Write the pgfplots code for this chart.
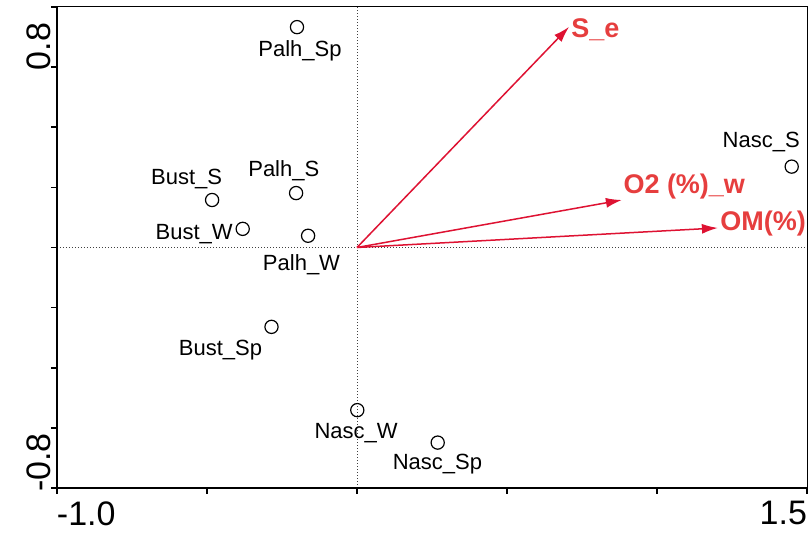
\documentclass[border=0pt]{standalone}
\usepackage{pgfplots}
\pgfplotsset{compat=1.18}
\usepackage{fontspec}
\setmainfont{Liberation Sans}
\usetikzlibrary{arrows.meta}
\definecolor{arrowred}{RGB}{222,18,50}
\definecolor{textred}{RGB}{230,62,62}
\begin{document}
\begin{tikzpicture}
\begin{axis}[
  name=ax,
  scale only axis,
  width=375pt, height=240.5pt,
  xmin=-1, xmax=1.5, ymin=-0.8, ymax=0.8,
  axis line style={line width=0.5pt},
  tick pos=left,
  tick align=outside,
  major tick length=3pt,
  tick style={line width=0.8pt, black},
  xtick={-1,-0.5,0,0.5,1,1.5},
  ytick={-0.8,-0.6,-0.4,-0.2,0,0.2,0.4,0.6,0.8},
  xticklabels={\makebox[0pt][l]{-1.0},{},{},{},{},\makebox[0pt][r]{1.5}},
  yticklabels={\makebox[0pt][l]{\hspace{3.5pt}-0.8},{},{},{},{},{},{},{},\makebox[0pt][r]{0.8\hspace{2.5pt}}},
  tick label style={font=\fontsize{17}{20}\selectfont},
  xticklabel style={anchor=north, inner sep=0pt, yshift=-3.5pt},
  yticklabel style={rotate=90, anchor=south, inner sep=0pt, xshift=-5.5pt},
]
\addplot[densely dotted, line width=0.5pt, black!75] coordinates {(-1,0) (1.5,0)};
\addplot[densely dotted, line width=0.5pt, black!75] coordinates {(0,-0.8) (0,0.8)};
\addplot[arrowred, line width=0.75pt, -{Latex[length=8pt,width=5pt]}] coordinates {(0,0) (0.707,0.734)};
\addplot[arrowred, line width=0.75pt, -{Latex[length=8pt,width=5pt]}] coordinates {(0,0) (0.883,0.158)};
\addplot[arrowred, line width=0.75pt, -{Latex[length=8pt,width=5pt]}] coordinates {(0,0) (1.203,0.065)};
\addplot[only marks, mark=o, mark size=3.3pt, black, mark options={line width=0.6pt}] coordinates {
 (-0.200,0.733) (-0.203,0.181) (-0.483,0.158) (-0.381,0.062) (-0.163,0.039)
 (-0.285,-0.264) (0.001,-0.541) (0.269,-0.649) (1.449,0.269)};
\begin{scope}[every node/.style={font=\fontsize{11}{13}\selectfont, inner sep=0pt}]
\node[anchor=base] at (axis cs:-0.19,0.636) {Palh\_Sp};
\node[anchor=base] at (axis cs:-0.244,0.2355) {Palh\_S};
\node[anchor=base] at (axis cs:-0.568,0.211) {Bust\_S};
\node[anchor=base east] at (axis cs:-0.413,0.027) {Bust\_W};
\node[anchor=base] at (axis cs:-0.185,-0.075) {Palh\_W};
\node[anchor=base] at (axis cs:-0.455,-0.358) {Bust\_Sp};
\node[anchor=base] at (axis cs:-0.003,-0.634) {Nasc\_W};
\node[anchor=base] at (axis cs:0.268,-0.740) {Nasc\_Sp};
\node[anchor=base east] at (axis cs:1.477,0.334) {Nasc\_S};
\end{scope}
\begin{scope}[every node/.style={font=\fontsize{13.5}{16}\selectfont\bfseries, text=textred, inner sep=0pt}]
\node[anchor=base west] at (axis cs:0.713,0.70) {S\_e};
\node[anchor=base west] at (axis cs:0.887,0.178) {O2 (\%)\_w};
\node[anchor=base west] at (axis cs:1.21,0.058) {OM(\%)};
\end{scope}
\end{axis}
\draw[line width=1pt] (ax.north west) -- (ax.south west) -- (ax.south east);
\pgfresetboundingbox
\path ([shift={(-28.5pt,-23.5pt)}]ax.south west) rectangle ([shift={(1pt,3.5pt)}]ax.north east);
\end{tikzpicture}
\end{document}
